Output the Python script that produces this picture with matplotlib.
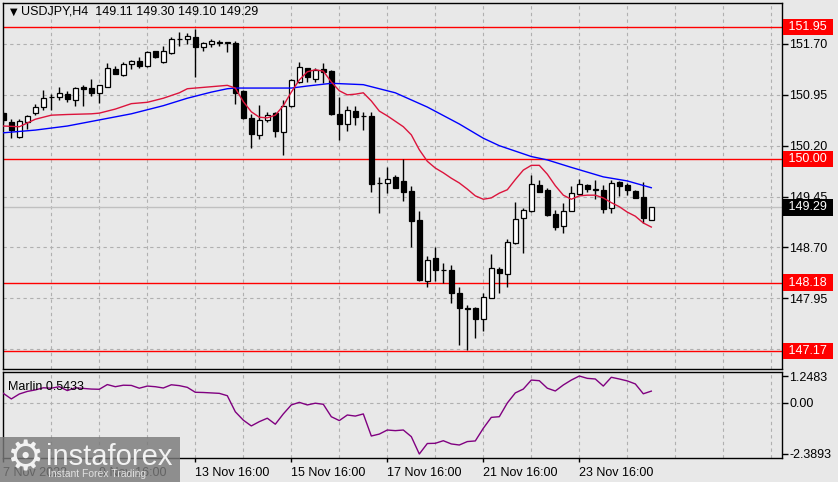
import numpy as np
import matplotlib
matplotlib.use('Agg')
import matplotlib.pyplot as plt
import matplotlib.transforms as mtransforms
from matplotlib.patches import Rectangle

plt.rcParams['font.family'] = ['Liberation Sans', 'DejaVu Sans']

# ------------------------------------------------------------
# data (H4 candles, first one = 7 Nov 2023 16:00)
# ------------------------------------------------------------
symbol = 'USDJPY,H4'
opens = [150.68, 150.55, 150.33, 150.55, 150.68, 150.77, 150.92, 150.92, 150.96, 150.87,
         151.06, 151.05, 150.97, 151.07, 151.33, 151.24, 151.40, 151.45, 151.37, 151.59,
         151.43, 151.56, 151.77, 151.77, 151.80, 151.66, 151.70, 151.73, 151.72, 151.72,
         151.01, 150.61, 150.36, 150.58, 150.68, 150.40, 150.78, 151.14, 151.34, 151.19,
         151.33, 151.30, 150.67, 150.52, 150.71, 150.64, 150.64, 149.65, 149.65, 149.74,
         149.68, 149.53, 149.10, 148.21, 148.54, 148.37, 148.37, 148.02, 147.80, 147.80,
         147.64, 147.96, 148.38, 148.31, 148.76, 149.13, 149.24, 149.62, 149.55, 149.19,
         149.02, 149.24, 149.48, 149.62, 149.55, 149.55, 149.28, 149.66, 149.62, 149.53,
         149.45, 149.11]
highs = [150.70, 150.59, 150.60, 150.65, 150.81, 151.02, 150.96, 151.06, 151.01, 151.06,
         151.10, 151.18, 151.10, 151.42, 151.37, 151.44, 151.46, 151.51, 151.60, 151.60,
         151.67, 151.81, 151.87, 151.86, 151.92, 151.73, 151.78, 151.76, 151.73, 151.74,
         151.02, 150.66, 150.80, 150.69, 150.69, 150.88, 151.18, 151.43, 151.35, 151.34,
         151.42, 151.32, 150.92, 150.79, 150.79, 150.70, 150.70, 149.74, 149.89, 149.77,
         150.00, 149.60, 149.23, 148.57, 148.70, 148.47, 148.44, 148.11, 147.85, 147.82,
         148.02, 148.60, 148.41, 148.82, 149.37, 149.28, 149.77, 149.70, 149.58, 149.25,
         149.35, 149.60, 149.71, 149.63, 149.70, 149.62, 149.69, 149.68, 149.65, 149.55,
         149.67, 149.30]
lows = [150.53, 150.32, 150.31, 150.45, 150.65, 150.73, 150.73, 150.87, 150.85, 150.78,
        150.79, 150.93, 150.83, 151.06, 151.25, 151.23, 151.33, 151.34, 151.36, 151.50,
        151.42, 151.55, 151.67, 151.70, 151.22, 151.60, 151.66, 151.67, 151.58, 150.81,
        150.60, 150.17, 150.30, 150.55, 150.33, 150.06, 150.77, 151.13, 151.14, 151.14,
        151.13, 150.65, 150.28, 150.42, 150.51, 150.43, 149.52, 149.21, 149.50, 149.57,
        149.39, 148.71, 148.21, 148.12, 148.20, 148.18, 147.88, 147.26, 147.19, 147.37,
        147.46, 147.95, 148.03, 148.11, 148.75, 148.61, 149.22, 149.51, 149.16, 148.96,
        148.91, 149.23, 149.47, 149.52, 149.42, 149.21, 149.21, 149.46, 149.47, 149.43,
        149.06, 149.10]
closes = [150.58, 150.43, 150.56, 150.64, 150.77, 150.91, 150.92, 150.98, 150.89, 151.05,
          151.03, 150.97, 151.09, 151.34, 151.26, 151.41, 151.45, 151.37, 151.58, 151.51,
          151.59, 151.78, 151.78, 151.82, 151.65, 151.72, 151.75, 151.71, 151.72, 150.98,
          150.61, 150.37, 150.58, 150.65, 150.41, 150.79, 151.17, 151.36, 151.21, 151.32,
          151.28, 150.66, 150.52, 150.72, 150.63, 150.64, 149.63, 149.65, 149.71, 149.58,
          149.52, 149.09, 148.22, 148.52, 148.36, 148.36, 148.03, 147.80, 147.79, 147.65,
          147.97, 148.39, 148.32, 148.78, 149.12, 149.25, 149.63, 149.52, 149.18, 149.00,
          149.24, 149.50, 149.63, 149.56, 149.55, 149.26, 149.65, 149.60, 149.54, 149.43,
          149.13, 149.29]

# slow moving average (blue), read at some candles
slow_idx = [0, 4, 8, 12, 16, 20, 23, 26, 28, 29, 36, 38, 41, 45, 49, 53, 57, 60, 62,
            66, 68, 71, 75, 78, 81]
slow_val = [150.39, 150.43, 150.49, 150.58, 150.67, 150.79, 150.90, 150.99, 151.04, 151.05,
            151.05, 151.08, 151.12, 151.10, 150.98, 150.77, 150.52, 150.31, 150.20,
            150.04, 149.99, 149.88, 149.74, 149.68, 149.58]

# fast moving average (crimson)
fast_idx = [0, 2, 4, 6, 8, 11, 12, 14, 16, 18, 20, 22, 23, 25, 28, 29, 30, 31, 32, 33,
            34, 35, 36, 37, 38, 39, 40, 41, 42, 43, 44, 45, 46, 47, 48, 49, 50, 51, 52,
            53, 54, 55, 56, 57, 58, 59, 60, 61, 62, 63, 64, 65, 66, 67, 68, 69, 70, 71,
            72, 73, 74, 75, 76, 77, 78, 79, 80, 81]
fast_val = [150.49, 150.48, 150.59, 150.65, 150.66, 150.67, 150.68, 150.74, 150.82, 150.84,
            150.90, 150.98, 151.04, 151.06, 151.09, 151.05, 150.85, 150.70, 150.62, 150.61,
            150.65, 150.79, 150.99, 151.17, 151.29, 151.32, 151.30, 151.14, 151.01, 150.95,
            150.96, 150.98, 150.86, 150.71, 150.64, 150.56, 150.48, 150.36, 150.14,
            149.97, 149.87, 149.80, 149.72, 149.65, 149.56, 149.46, 149.41, 149.43, 149.50,
            149.55, 149.70, 149.84, 149.91, 149.91, 149.78, 149.61, 149.47, 149.41,
            149.46, 149.47, 149.47, 149.43, 149.36, 149.30, 149.22, 149.16, 149.06, 149.00]

# Marlin oscillator, one value per candle
marlin = [0.44, 0.18, 0.41, 0.53, 0.60, 0.70, 0.68, 0.75, 0.57, 0.70,
          0.67, 0.64, 0.63, 0.85, 0.75, 0.82, 0.81, 0.68, 0.78, 0.75,
          0.69, 0.84, 0.80, 0.72, 0.49, 0.48, 0.46, 0.44, 0.33, -0.42,
          -0.81, -1.08, -0.88, -0.72, -1.00, -0.52, -0.10, 0.02, -0.10, -0.02,
          -0.07, -0.65, -0.83, -0.57, -0.62, -0.52, -1.55, -1.46, -1.27, -1.30,
          -1.27, -1.58, -2.3893, -1.90, -1.89, -1.77, -1.92, -1.97, -1.81, -1.78,
          -1.19, -0.68, -0.65, -0.01, 0.46, 0.64, 1.06, 1.03, 0.68, 0.55,
          0.83, 1.06, 1.2483, 1.14, 1.11, 0.78, 1.19, 1.11, 1.02, 0.88,
          0.42, 0.5433]

levels = [151.95, 150.00, 148.18, 147.17]
price_ticks = [151.70, 150.95, 150.20, 149.45, 148.70, 147.95, 147.20]
marlin_ticks = [1.2483, 0.0, -2.3893]
date_pos = [0, 12, 24, 36, 48, 60, 72]
date_labels = ['7 Nov 2023', '9 Nov 16:00', '13 Nov 16:00', '15 Nov 16:00',
               '17 Nov 16:00', '21 Nov 16:00', '23 Nov 16:00']

# ------------------------------------------------------------
W, H = 838, 482
BG = '#e8e8e8'
GRID = '#b0b0b0'
fig = plt.figure(figsize=(W / 100, H / 100), dpi=100, facecolor=BG)

def px_axes(x0, y0, x1, y1):
    return fig.add_axes([x0 / W, 1 - y1 / H, (x1 - x0) / W, (y1 - y0) / H])

ax = px_axes(3, 2.5, 781.7, 369)
axm = px_axes(3, 371.7, 781.7, 458.3)

n = len(opens)
idx = np.arange(n)
xlim = (-0.04, 97.3)

for a in (ax, axm):
    a.set_facecolor(BG)
    a.set_xlim(*xlim)
    for s in a.spines.values():
        s.set_linewidth(1.0)
        s.set_color('black')
    for k in range(6, 97, 6):
        a.axvline(k, color=GRID, lw=0.8, ls=(0, (3, 3)), zorder=0)

# ---- main price panel ----
ax.set_ylim(146.906, 152.312)
for p in price_ticks:
    ax.axhline(p, color=GRID, lw=0.8, ls=(0, (3, 3)), zorder=0)
for lv in levels:
    ax.axhline(lv, color='#ff0000', lw=1.0, zorder=1)
ax.axhline(closes[-1], color='#c0c0c0', lw=1.0, zorder=1)

o = np.array(opens); c = np.array(closes)
hi = np.array(highs); lo = np.array(lows)
up = c >= o
ax.vlines(idx, lo, hi, color='black', lw=1.0, zorder=2)
body = np.maximum(np.abs(c - o), 0.004)
bottom = np.minimum(o, c)
ax.bar(idx[up], body[up], bottom=bottom[up], width=0.6, color='white',
       edgecolor='black', linewidth=0.9, zorder=3)
ax.bar(idx[~up], body[~up], bottom=bottom[~up], width=0.6, color='black',
       edgecolor='black', linewidth=0.9, zorder=3)

ax.plot(slow_idx, slow_val, color='#0000ff', lw=1.0, zorder=4)
ax.plot(fast_idx, fast_val, color='#dc143c', lw=1.0, zorder=4)

ax.yaxis.tick_right()
ax.set_yticks(price_ticks)
# lowest grid label sits under the 147.17 tag in the reference
ax.set_yticklabels([f'{p:.2f}' for p in price_ticks[:-1]] + [''])
ax.tick_params(axis='y', direction='out', length=4, width=1, pad=1.5,
               labelsize=9, colors='black')
ax.set_xticks([])

trans = mtransforms.blended_transform_factory(ax.transAxes, ax.transData)
tag_trans = mtransforms.offset_copy(trans, fig=fig, x=3.5, y=0, units='dots')
for lv in levels:
    ax.text(1.0, lv, f' {lv:.2f} ', transform=tag_trans, ha='left', va='center',
            fontsize=9, color='white', zorder=20, clip_on=False,
            bbox=dict(boxstyle='square,pad=0.18', fc='#ff0000', ec='none'))
ax.text(1.0, closes[-1], f' {closes[-1]:.2f} ', transform=tag_trans, ha='left',
        va='center', fontsize=9, color='white', zorder=20, clip_on=False,
        bbox=dict(boxstyle='square,pad=0.18', fc='black', ec='none'))

ax.text(0.009, 0.975, '\u25bc', transform=ax.transAxes, fontsize=7,
        family=['DejaVu Sans'], va='center', ha='left')
ax.text(0.023, 0.975,
        f'{symbol}  {opens[-1]:.2f} {highs[-1]:.2f} {lows[-1]:.2f} {closes[-1]:.2f}',
        transform=ax.transAxes, fontsize=9, va='center', ha='left')

# ---- Marlin panel ----
axm.set_ylim(-2.59, 1.45)
axm.axhline(0, color=GRID, lw=0.8, ls=(0, (3, 3)), zorder=0)
axm.plot(idx, marlin, color='#800080', lw=1.0, zorder=3)
axm.yaxis.tick_right()
axm.set_yticks(marlin_ticks)
axm.set_yticklabels(['1.2483', '0.00', '-2.3893'])
axm.tick_params(axis='y', direction='out', length=4, width=1, pad=1.5, labelsize=9)
axm.set_xticks(date_pos)
axm.set_xticklabels(date_labels, ha='left')
axm.tick_params(axis='x', direction='out', length=3, width=1, pad=3, labelsize=9)
axm.text(0.006, 0.82, f'Marlin {marlin[-1]:.4f}', transform=axm.transAxes,
         fontsize=9, va='center', ha='left')

# ---- watermark ----
ov = fig.add_axes([0, 0, 1, 1], zorder=10)
ov.set_xlim(0, W); ov.set_ylim(H, 0)
ov.axis('off')
ov.patch.set_alpha(0)
ov.add_patch(Rectangle((0, 437), 180, 45, color='#7a7a7a', alpha=0.82, lw=0))
ov.text(25, 458, '\u2699', fontsize=30, color='#f2f2f2', ha='center', va='center',
        family=['DejaVu Sans'])
ov.text(46, 457, 'instaforex', fontsize=21, color='#f2f2f2', ha='left', va='center')
ov.text(48, 474, 'Instant Forex Trading', fontsize=7.5, color='#e0e0e0',
        ha='left', va='center')

fig.savefig('out.png', dpi=100, facecolor=BG)
